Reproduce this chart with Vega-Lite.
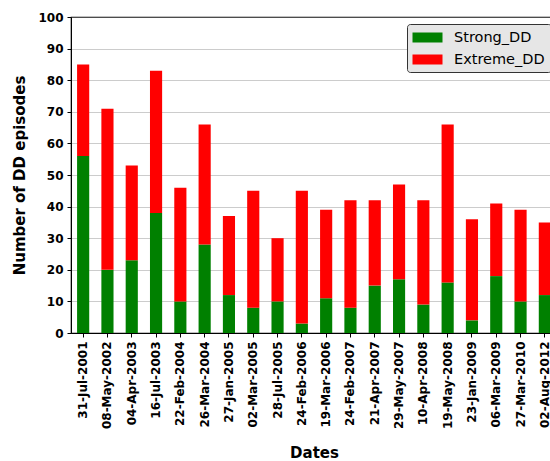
{
  "$schema": "https://vega.github.io/schema/vega-lite/v6.json",
  "autosize": "none",
  "width": 486,
  "height": 316,
  "padding": {"left": 71, "top": 17, "right": 0, "bottom": 128},
  "background": "white",
  "config": {
    "font": "DejaVu Sans",
    "view": {"stroke": "#000", "strokeWidth": 1.2},
    "axis": {
      "labelFont": "DejaVu Sans",
      "labelFontWeight": "bold",
      "labelFontSize": 12,
      "labelColor": "#000",
      "titleFont": "DejaVu Sans",
      "titleFontWeight": "bold",
      "titleFontSize": 15,
      "titleColor": "#000",
      "domainColor": "#000",
      "tickColor": "#000",
      "tickSize": 4
    }
  },
  "data": {
    "values": [
      {"date": "31-Jul-2001", "order": 1, "type": "Strong_DD", "value": 56},
      {"date": "31-Jul-2001", "order": 1, "type": "Extreme_DD", "value": 29},
      {"date": "08-May-2002", "order": 2, "type": "Strong_DD", "value": 20},
      {"date": "08-May-2002", "order": 2, "type": "Extreme_DD", "value": 51},
      {"date": "04-Apr-2003", "order": 3, "type": "Strong_DD", "value": 23},
      {"date": "04-Apr-2003", "order": 3, "type": "Extreme_DD", "value": 30},
      {"date": "16-Jul-2003", "order": 4, "type": "Strong_DD", "value": 38},
      {"date": "16-Jul-2003", "order": 4, "type": "Extreme_DD", "value": 45},
      {"date": "22-Feb-2004", "order": 5, "type": "Strong_DD", "value": 10},
      {"date": "22-Feb-2004", "order": 5, "type": "Extreme_DD", "value": 36},
      {"date": "26-Mar-2004", "order": 6, "type": "Strong_DD", "value": 28},
      {"date": "26-Mar-2004", "order": 6, "type": "Extreme_DD", "value": 38},
      {"date": "27-Jan-2005", "order": 7, "type": "Strong_DD", "value": 12},
      {"date": "27-Jan-2005", "order": 7, "type": "Extreme_DD", "value": 25},
      {"date": "02-Mar-2005", "order": 8, "type": "Strong_DD", "value": 8},
      {"date": "02-Mar-2005", "order": 8, "type": "Extreme_DD", "value": 37},
      {"date": "28-Jul-2005", "order": 9, "type": "Strong_DD", "value": 10},
      {"date": "28-Jul-2005", "order": 9, "type": "Extreme_DD", "value": 20},
      {"date": "24-Feb-2006", "order": 10, "type": "Strong_DD", "value": 3},
      {"date": "24-Feb-2006", "order": 10, "type": "Extreme_DD", "value": 42},
      {"date": "19-Mar-2006", "order": 11, "type": "Strong_DD", "value": 11},
      {"date": "19-Mar-2006", "order": 11, "type": "Extreme_DD", "value": 28},
      {"date": "24-Feb-2007", "order": 12, "type": "Strong_DD", "value": 8},
      {"date": "24-Feb-2007", "order": 12, "type": "Extreme_DD", "value": 34},
      {"date": "21-Apr-2007", "order": 13, "type": "Strong_DD", "value": 15},
      {"date": "21-Apr-2007", "order": 13, "type": "Extreme_DD", "value": 27},
      {"date": "29-May-2007", "order": 14, "type": "Strong_DD", "value": 17},
      {"date": "29-May-2007", "order": 14, "type": "Extreme_DD", "value": 30},
      {"date": "10-Apr-2008", "order": 15, "type": "Strong_DD", "value": 9},
      {"date": "10-Apr-2008", "order": 15, "type": "Extreme_DD", "value": 33},
      {"date": "19-May-2008", "order": 16, "type": "Strong_DD", "value": 16},
      {"date": "19-May-2008", "order": 16, "type": "Extreme_DD", "value": 50},
      {"date": "23-Jan-2009", "order": 17, "type": "Strong_DD", "value": 4},
      {"date": "23-Jan-2009", "order": 17, "type": "Extreme_DD", "value": 32},
      {"date": "06-Mar-2009", "order": 18, "type": "Strong_DD", "value": 18},
      {"date": "06-Mar-2009", "order": 18, "type": "Extreme_DD", "value": 23},
      {"date": "27-Mar-2010", "order": 19, "type": "Strong_DD", "value": 10},
      {"date": "27-Mar-2010", "order": 19, "type": "Extreme_DD", "value": 29},
      {"date": "02-Aug-2012", "order": 20, "type": "Strong_DD", "value": 12},
      {"date": "02-Aug-2012", "order": 20, "type": "Extreme_DD", "value": 23}
    ]
  },
  "mark": {"type": "bar", "stroke": null},
  "encoding": {
    "x": {
      "field": "date",
      "type": "nominal",
      "sort": {"field": "order", "op": "min"},
      "scale": {"paddingInner": 0.5, "paddingOuter": 0.25},
      "axis": {"title": "Dates", "labelAngle": 270, "labelPadding": 4, "titlePadding": 17}
    },
    "y": {
      "field": "value",
      "type": "quantitative",
      "stack": "zero",
      "scale": {"domain": [0, 100], "nice": false},
      "axis": {
        "title": "Number of DD episodes",
        "values": [0, 10, 20, 30, 40, 50, 60, 70, 80, 90, 100],
        "grid": true,
        "gridColor": "#999",
        "gridDash": [1, 1],
        "gridWidth": 1,
        "labelPadding": 4,
        "titlePadding": 10
      }
    },
    "color": {
      "field": "type",
      "type": "nominal",
      "scale": {"domain": ["Strong_DD", "Extreme_DD"], "range": ["#008000", "#ff0000"]},
      "legend": {
        "title": null,
        "orient": "none",
        "legendX": 336,
        "legendY": 7,
        "fillColor": "#e6e6e6",
        "strokeColor": "#333",
        "cornerRadius": 3,
        "padding": 6,
        "labelFont": "DejaVu Sans",
        "labelFontSize": 14.5,
        "labelColor": "#000",
        "symbolType": "M-2,-0.6667h4v1.3333h-4z",
        "symbolSize": 225,
        "symbolStrokeWidth": 0,
        "symbolOpacity": 1,
        "symbolOffset": 7,
        "rowPadding": 7,
        "labelOffset": 19
      }
    },
    "order": {"field": "type", "sort": "descending"}
  }
}
